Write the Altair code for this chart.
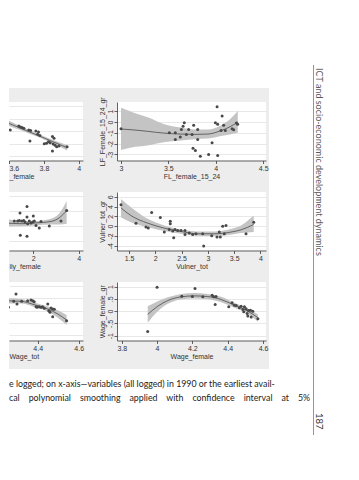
import altair as alt
import pandas as pd

# ---------------- values ----------------
# top-left panel (only its right part is on the page)
tl_x = [3.572, 3.607, 3.656, 3.666, 3.675, 3.685, 3.713, 3.724, 3.754, 3.769, 3.720, 3.764, 3.777,
        3.802, 3.815, 3.826, 3.836, 3.849, 3.858, 3.853, 3.864, 3.849, 3.873, 3.886, 3.933]
tl_y = [0.144, -0.896, -0.576, -0.656, -0.704, -0.760, -0.896, -0.944, -0.976, -1.056, -1.776, -1.240, -1.344,
        -1.984, -1.960, -1.824, -1.904, -1.424, -1.560, -2.016, -2.120, -2.576, -2.224, -2.176, -2.224]
tl_fx = [3.51, 3.60, 3.679, 3.764, 3.849, 3.933]
tl_fit = [0.152, -0.376, -0.832, -1.320, -1.816, -2.304]
tl_lo = [-0.128, -0.576, -0.972, -1.440, -1.956, -2.524]
tl_hi = [0.432, -0.176, -0.692, -1.200, -1.676, -2.084]

# middle-left panel
ml_x = [0.652, 1.163, 1.313, 1.383, 1.489, 1.577, 1.634, 1.753, 1.824, 1.899, 1.974, 2.044,
        2.119, 2.264, 2.339, 2.705, 3.220, 3.471, 1.414, 1.722, 1.722, 2.000, 1.427, 1.722]
ml_y = [0.027, 0.693, 0.693, 0.773, 0.693, 0.773, 0.560, 0.333, 0.693, 0.427, 0.560, 0.693,
        0.107, -0.240, 0.640, 0.027, 0.693, 2.107, 1.760, 2.640, 1.227, 1.360, -1.227, -1.360]
ml_fx = [0.357, 0.93, 1.458, 2.03, 2.78, 3.13, 3.47]
ml_fit = [0.40, 0.40, 0.333, 0.427, 0.64, 1.093, 2.107]
ml_lo = [-0.60, -0.027, 0.0, 0.107, 0.24, 0.24, 0.333]
ml_hi = [1.40, 0.907, 0.733, 0.693, 1.00, 1.667, 3.40]

# bottom-left panel
bl_x = [4.226, 4.237, 4.250, 4.257, 4.283, 4.294, 4.299, 4.322, 4.351, 4.367, 4.376, 4.383, 4.392,
        4.397, 4.408, 4.416, 4.424, 4.432, 4.449, 4.454, 4.460, 4.465, 4.473, 4.481, 4.473, 4.541]
bl_y = [0.155, 0.429, 0.469, 0.131, 0.376, 0.673, 0.265, 0.376, 0.400, 0.429, 0.400, 0.359, 0.155,
        0.131, 0.155, 0.131, 0.155, 0.090, 0.265, -0.008, -0.073, 0.102, 0.061, 0.049, -0.253, -0.416]
bl_fx = [4.15, 4.221, 4.319, 4.383, 4.449, 4.498, 4.541]
bl_fit = [0.42, 0.40, 0.376, 0.237, 0.061, -0.143, -0.388]
bl_lo = [0.30, 0.29, 0.286, 0.147, -0.039, -0.293, -0.588]
bl_hi = [0.54, 0.51, 0.466, 0.327, 0.161, 0.007, -0.188]

# top-right panel: FL_female_15_24 vs LF_Female_15_24_gr
tr_x = [4.014, 4.067, 3.996, 4.020, 4.083, 4.056, 4.101, 4.172, 4.189, 4.218, 4.231,
        3.000, 3.510, 3.573, 3.573, 3.626, 3.637, 3.655, 3.668, 3.690, 3.714, 3.767,
        3.750, 3.809, 3.809, 3.760, 3.785, 3.837, 3.925, 3.961, 4.020]
tr_y = [1.395, 0.558, -0.065, -0.223, -0.316, -0.781, -0.781, -0.623, -0.716, -0.093, -0.223,
        -0.623, -0.995, -0.995, -1.619, -1.395, -0.688, -0.409, -0.065, -1.153, -0.688, -0.316,
        -1.153, -0.688, -1.619, -2.419, -2.642, -3.163, -3.014, -1.926, -3.107]
tr_fx = [3.0, 3.15, 3.282, 3.45, 3.634, 3.78, 3.916, 4.056, 4.15, 4.232]
tr_fit = [-0.65, -0.75, -0.87, -1.03, -1.12, -1.15, -1.12, -0.80, -0.45, 0.0]
tr_lo = [-2.60, -2.30, -2.17, -1.88, -1.72, -1.60, -1.54, -1.30, -1.15, -1.0]
tr_hi = [1.30, 0.80, 0.43, -0.18, -0.52, -0.70, -0.70, -0.30, 0.25, 1.0]

# middle-right panel: Vulner_tot vs Vulner_tot_gr
mr_x = [1.348, 1.633, 1.823, 1.867, 1.931, 2.095, 2.171, 2.266, 2.285, 2.285, 2.331, 2.350, 2.375,
        2.426, 2.489, 2.565, 2.565, 2.646, 2.711, 2.774, 2.901, 2.920, 3.072, 3.173, 3.236, 3.217,
        3.281, 3.344, 3.312, 3.725, 3.871]
mr_y = [4.41, 0.61, -0.20, -0.41, 2.78, 1.76, -1.22, -0.69, 1.02, 0.47, -1.02, -2.39, -0.69,
        -0.90, -0.90, -0.90, -1.71, -1.43, -1.71, -1.57, -1.57, -4.08, -1.98, -2.24, -2.24, -1.22,
        0.00, 0.12, -1.57, -1.57, 0.82]
mr_fx = [1.348, 1.538, 1.856, 2.171, 2.489, 2.806, 3.122, 3.439, 3.629, 3.871]
mr_fit = [3.73, 2.16, 0.61, -0.41, -1.10, -1.57, -1.57, -1.22, -0.76, 0.33]
mr_lo = [1.84, 0.82, -0.20, -1.02, -1.57, -1.98, -2.04, -1.78, -1.43, -1.22]
mr_hi = [5.57, 3.88, 1.49, 0.12, -0.69, -1.10, -1.10, -0.61, 0.12, 2.16]

# bottom-right panel: Wage_female vs Wage_female_gr
br_x = [3.947, 4.000, 4.140, 4.215, 4.200, 4.259, 4.312, 4.321, 4.334, 4.329, 4.406, 4.425, 4.438,
        4.448, 4.466, 4.476, 4.486, 4.491, 4.495, 4.504, 4.510, 4.514, 4.518, 4.529, 4.533, 4.542, 4.571]
br_y = [-0.834, 0.972, 0.607, 0.920, 0.595, 0.583, 0.648, 0.583, 0.595, 0.271, 0.178, 0.340, 0.243,
        0.231, 0.138, 0.202, 0.069, -0.024, 0.178, 0.097, -0.093, -0.202, 0.028, 0.040, -0.243, 0.0, -0.308]
br_fx = [3.947, 4.004, 4.061, 4.136, 4.211, 4.287, 4.363, 4.438, 4.514, 4.571]
br_fit = [-0.134, 0.202, 0.433, 0.583, 0.623, 0.595, 0.474, 0.243, 0.0, -0.267]
br_lo = [-0.470, 0.0, 0.300, 0.474, 0.514, 0.486, 0.364, 0.138, -0.105, -0.429]
br_hi = [0.202, 0.405, 0.567, 0.704, 0.745, 0.704, 0.583, 0.340, 0.109, -0.134]

# tick labels
tl_xticks = [3.6, 3.8, 4.0]
ml_xticks = [2, 4]
bl_xticks = [4.4, 4.6]
tr_xticks = [3, 3.5, 4, 4.5]
mr_xticks = [1.5, 2, 2.5, 3, 3.5, 4]
br_xticks = [3.8, 4, 4.2, 4.4, 4.6]
tr_yticks = [-3, -2, -1, 0, 1]
mr_yticks = [-4, -2, 0, 2, 4, 6]
br_yticks = [-1, -0.5, 0, 0.5, 1]
ml_yticks = [-2, 0, 2, 4]

RUNNING_HEAD = "ICT and socio-economic development dynamics"
PAGE_NO = "187"
CAPTION_1 = "e logged; on x-axis\u2014variables (all logged) in 1990 or the earliest avail-"
CAPTION_2_WORDS = ["cal", "polynomial", "smoothing", "applied", "with", "confidence", "interval", "at", "5%"]

# ---------------- styles ----------------
FONT = "Liberation Sans"
TFONT = "Lato"
AXC = "#3c3c3c"
TXT = "#333333"
GRIDC = "#e2e2e2"
BANDC = "#c4c4c4"
PTC = "#484848"
LNC = "#4a4a4a"
BG = "#ededed"

LABEL = "(datum.value < 0 ? '-' : '') + replace(format(abs(datum.value), '~g'), '0.', '.')"


def panel(px, py, fx, fit, lo, hi, xdom, ydom, xticks, yticks, xtitle, ytitle, width, height, left):
    pts = pd.DataFrame({"x": px, "y": py})
    fdf = pd.DataFrame({"x": fx, "fit": fit, "lo": lo, "hi": hi})
    xax = dict(values=xticks, labelExpr=LABEL, title=xtitle, grid=False, domainColor=AXC,
               domainWidth=0.8, tickColor=AXC, tickWidth=0.8, tickSize=3, labelPadding=1,
               labelFont=FONT, labelFontSize=7, labelColor=TXT, titleFont=FONT, titleFontSize=7,
               titleFontWeight="normal", titleColor=TXT, titlePadding=1, labelOverlap=False,
               labelFlush=left)
    if left:
        xax.update(titleAnchor="start", titleAlign="left")
        yax = alt.Axis(values=yticks, labels=False, ticks=False, domain=False, grid=True,
                       gridColor=GRIDC, gridWidth=0.8, title=None)
    else:
        yax = alt.Axis(values=yticks, labelExpr=LABEL, title=ytitle, grid=True, gridColor=GRIDC,
                       gridWidth=0.8, domainColor=AXC, domainWidth=0.8, tickColor=AXC,
                       tickWidth=0.8, tickSize=3, labelPadding=1, labelAngle=270,
                       labelAlign="center", labelBaseline="bottom", labelFont=FONT,
                       labelFontSize=7, labelColor=TXT, titleFont=FONT, titleFontSize=7,
                       titleFontWeight="normal", titleColor=TXT, titlePadding=1,
                       labelOverlap=False)
    xs = alt.Scale(domain=xdom, nice=False, zero=False)
    ys = alt.Scale(domain=ydom, nice=False, zero=False)
    X = alt.X("x:Q", scale=xs, axis=alt.Axis(**xax))
    band = alt.Chart(fdf).mark_area(color=BANDC, interpolate="monotone", clip=True).encode(
        x=X, y=alt.Y("lo:Q", scale=ys, axis=yax), y2="hi:Q")
    line = alt.Chart(fdf).mark_line(color=LNC, strokeWidth=0.8, interpolate="monotone", clip=True).encode(
        x=X, y=alt.Y("fit:Q", scale=ys, axis=yax))
    dots = alt.Chart(pts).mark_circle(color=PTC, size=9, opacity=1, clip=True).encode(
        x=X, y=alt.Y("y:Q", scale=ys, axis=yax))
    return alt.layer(band, line, dots).properties(
        width=width, height=height, view=alt.ViewBackground(fill="white", stroke="transparent"))


LW, RW, H = 74, 149, 58.5
TL = panel(tl_x, tl_y, tl_fx, tl_fit, tl_lo, tl_hi, [3.6, 4.024], [-3.32, 1.32], tl_xticks,
           [-3, -2, -1, 0, 1], "_female", None, LW, H, True)
TR = panel(tr_x, tr_y, tr_fx, tr_fit, tr_lo, tr_hi, [2.958, 4.53], [-3.56, 1.84], tr_xticks,
           tr_yticks, "FL_female_15_24", "LF_Female_15_24_gr", RW, H, False)
ML = panel(ml_x, ml_y, ml_fx, ml_fit, ml_lo, ml_hi, [0.93, 4.19], [-3.27, 4.6], ml_xticks,
           ml_yticks, "ily_female", None, LW, H, True)
MR = panel(mr_x, mr_y, mr_fx, mr_fit, mr_lo, mr_hi, [1.272, 4.105], [-5.0, 7.0], mr_xticks,
           mr_yticks, "Vulner_tot", "Vulner_tot_gr", RW, H, False)
BL = panel(bl_x, bl_y, bl_fx, bl_fit, bl_lo, bl_hi, [4.26, 4.621], [-1.224, 1.163], bl_xticks,
           br_yticks, "Wage_tot", None, LW, H, True)
BR = panel(br_x, br_y, br_fx, br_fit, br_lo, br_hi, [3.773, 4.617], [-1.2, 1.19], br_xticks,
           br_yticks, "Wage_female", "Wage_female_gr", RW, H, False)

one = pd.DataFrame({"a": [0]})
grey_band = alt.Chart(one).mark_rect(color=BG).encode(
    x=alt.value(0), x2=alt.value(260), y=alt.value(77), y2=alt.value(358))
vline = alt.Chart(one).mark_rule(color="#7a7a7a", strokeWidth=0.8).encode(
    x=alt.value(304.5), y=alt.value(54), y2=alt.value(424))
head = alt.Chart(pd.DataFrame({"t": [RUNNING_HEAD]})).mark_text(
    angle=90, align="left", baseline="middle", font=TFONT, fontSize=9, color="#5a5a5a").encode(
    x=alt.value(310), y=alt.value(57), text="t:N")
pageno = alt.Chart(pd.DataFrame({"t": [PAGE_NO]})).mark_text(
    angle=90, align="left", baseline="middle", font=TFONT, fontSize=9.5, color="#333333").encode(
    x=alt.value(310), y=alt.value(402), text="t:N")
TOP = alt.layer(grey_band, vline, head, pageno).properties(
    width=LW, height=60, view=alt.ViewBackground(stroke="transparent"))

DUMMY = alt.Chart(one).mark_point(opacity=0).encode(x=alt.value(0), y=alt.value(0)).properties(
    width=1, height=1, view=alt.ViewBackground(stroke="transparent"))

cap2 = "\u00a0\u00a0\u00a0\u00a0".join(CAPTION_2_WORDS)
cap1_mark = alt.Chart(pd.DataFrame({"t": [CAPTION_1]})).mark_text(
    align="left", baseline="middle", font=TFONT, fontSize=8.8, color="#222222").encode(
    x=alt.value(0), y=alt.value(11.5), text="t:N")
cap2_mark = alt.Chart(pd.DataFrame({"t": [cap2]})).mark_text(
    align="left", baseline="middle", font=TFONT, fontSize=8.8, color="#222222").encode(
    x=alt.value(0), y=alt.value(25.5), text="t:N")
CAP = alt.layer(cap1_mark, cap2_mark).properties(
    width=LW, height=100, view=alt.ViewBackground(stroke="transparent"))

chart = alt.concat(
    TOP, DUMMY, TL, TR, ML, MR, BL, BR, CAP,
    columns=2,
    spacing={"row": 31, "column": 34},
    align="each",
    bounds="flush",
).properties(padding=0, background="white").configure_view(strokeWidth=0)

chart.save("out.html", embed_options={"renderer": "svg", "actions": False})
